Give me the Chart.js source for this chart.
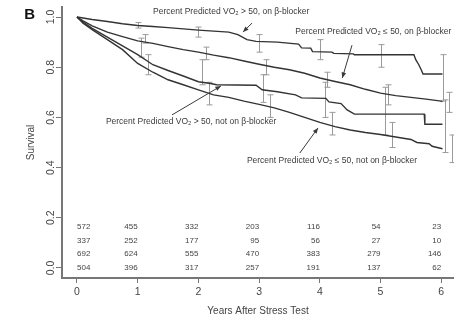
<!DOCTYPE html>
<html>
<head>
<meta charset="utf-8">
<script src="https://cdn.jsdelivr.net/npm/chart.js@4.4.0/dist/chart.umd.min.js"></script>
<style>
html, body { margin: 0; padding: 0; background: #fff; }
#wrap { width: 454px; height: 321px; position: relative; }
</style>
</head>
<body>
<div id="wrap"><canvas id="chart"></canvas></div>
<script>
'use strict';

var FONT = "'Liberation Sans', Arial, Helvetica, sans-serif";
var LINE = '#333333';
var BAR = '#9a9a9a';
var TEXT = '#444444';
var AXIS = '#777777';

// Kaplan-Meier curves (years, survival)
var timeA = [0, 0.25, 0.5, 0.75, 1.0, 1.25, 1.5, 1.75, 2.0, 2.25, 2.5, 2.65, 2.8, 2.95, 3.3, 3.65, 3.7, 3.85, 3.88, 4.2, 4.23, 4.55, 4.57, 5.55, 5.58, 5.63, 5.67, 5.7, 6.02];
var survA = [1.0, 0.99, 0.982, 0.973, 0.966, 0.962, 0.958, 0.953, 0.948, 0.944, 0.94, 0.93, 0.91, 0.903, 0.9, 0.892, 0.877, 0.876, 0.862, 0.86, 0.855, 0.853, 0.85, 0.85, 0.83, 0.81, 0.79, 0.773, 0.773];

var timeB = [0, 0.1, 0.25, 0.5, 0.75, 1.0, 1.25, 1.5, 1.75, 2.0, 2.25, 2.5, 2.75, 3.0, 3.25, 3.5, 3.75, 4.0, 4.25, 4.5, 4.75, 5.0, 5.25, 5.5, 5.75, 6.0, 6.02];
var survB = [1.0, 0.985, 0.965, 0.94, 0.922, 0.905, 0.895, 0.882, 0.87, 0.86, 0.848, 0.838, 0.825, 0.812, 0.8, 0.79, 0.776, 0.757, 0.743, 0.73, 0.712, 0.697, 0.687, 0.68, 0.673, 0.665, 0.663];

var timeC = [0, 0.1, 0.25, 0.5, 0.75, 1.0, 1.25, 1.5, 1.75, 2.0, 2.2, 2.3, 2.95, 3.05, 3.3, 3.6, 3.7, 4.1, 4.15, 4.35, 4.45, 4.57, 5.72, 5.73, 6.02];
var survC = [1.0, 0.98, 0.955, 0.92, 0.885, 0.85, 0.81, 0.787, 0.765, 0.742, 0.735, 0.73, 0.728, 0.71, 0.702, 0.69, 0.678, 0.676, 0.662, 0.655, 0.63, 0.613, 0.613, 0.573, 0.573];

var timeD = [0, 0.1, 0.25, 0.5, 0.75, 1.0, 1.25, 1.5, 1.75, 2.0, 2.25, 2.5, 2.75, 3.0, 3.25, 3.5, 3.75, 4.0, 4.25, 4.5, 4.75, 5.0, 5.25, 5.5, 5.6, 5.8, 5.85, 6.02];
var survD = [1.0, 0.975, 0.95, 0.91, 0.87, 0.815, 0.78, 0.75, 0.73, 0.71, 0.69, 0.68, 0.665, 0.652, 0.638, 0.62, 0.6, 0.58, 0.563, 0.55, 0.54, 0.532, 0.522, 0.512, 0.5, 0.495, 0.485, 0.475];

// confidence bars (time, lower, upper)
var errTimeA = [1.0, 2.0, 3.0, 4.0, 5.0, 6.03];
var errLowA = [0.956, 0.92, 0.86, 0.83, 0.80, 0.665];
var errHighA = [0.978, 0.96, 0.93, 0.91, 0.89, 0.85];

var errTimeB = [1.12, 2.12, 3.12, 4.12, 5.12, 6.12];
var errLowB = [0.896, 0.83, 0.77, 0.72, 0.65, 0.62];
var errHighB = [0.93, 0.88, 0.83, 0.78, 0.73, 0.70];

var errTimeC = [1.06, 2.06, 3.06, 4.08, 5.07, 6.06];
var errLowC = [0.84, 0.73, 0.66, 0.60, 0.53, 0.46];
var errHighC = [0.916, 0.83, 0.77, 0.74, 0.72, 0.67];

var errTimeD = [1.17, 2.17, 3.18, 4.2, 5.19, 6.18];
var errLowD = [0.77, 0.65, 0.60, 0.53, 0.48, 0.42];
var errHighD = [0.85, 0.74, 0.69, 0.62, 0.58, 0.53];

// numbers at risk
var riskTimes = [0, 1, 2, 3, 4, 5, 6];
var riskRow1 = [572, 455, 332, 203, 116, 54, 23];
var riskRow2 = [337, 252, 177, 95, 56, 27, 10];
var riskRow3 = [692, 624, 555, 470, 383, 279, 146];
var riskRow4 = [504, 396, 317, 257, 191, 137, 62];
var riskRowY = [0.165, 0.11, 0.055, 0];

var yTicks = [0, 0.2, 0.4, 0.6, 0.8, 1.0];
var yTickLabels = ['0.0', '0.2', '0.4', '0.6', '0.8', '1.0'];

var curveLabels = [
	'Percent Predicted VO\u2082 > 50, on \u03b2-blocker',
	'Percent Predicted VO\u2082 \u2264 50, on \u03b2-blocker',
	'Percent Predicted VO\u2082 > 50, not on \u03b2-blocker',
	'Percent Predicted VO\u2082 \u2264 50, not on \u03b2-blocker'
];
// label centre and arrow tail/head, in data units
var labelPos = [[2.54, 1.02], [4.88, 0.94], [1.88, 0.582], [4.2, 0.426]];
var arrowFrom = [[2.883, 0.976], [4.53, 0.888], [1.565, 0.61], [3.67, 0.458]];
var arrowTo = [[2.735, 0.94], [4.37, 0.757], [2.37, 0.725], [3.97, 0.558]];

function toPoints(ts, vs) {
	return ts.map(function(t, i) {
		return {x: t, y: vs[i]};
	});
}

function curve(ts, vs) {
	return {
		data: toPoints(ts, vs),
		borderColor: LINE,
		borderWidth: 1.4,
		pointRadius: 0,
		tension: 0,
		fill: false
	};
}

function drawBars(ctx, xs, ys, ts, lo, hi) {
	ctx.beginPath();
	for (var i = 0; i < ts.length; i++) {
		var x = Math.round(xs.getPixelForValue(ts[i])) + 0.5;
		var y1 = ys.getPixelForValue(lo[i]);
		var y2 = ys.getPixelForValue(hi[i]);
		ctx.moveTo(x, y1);
		ctx.lineTo(x, y2);
		ctx.moveTo(x - 3, y1);
		ctx.lineTo(x + 3, y1);
		ctx.moveTo(x - 3, y2);
		ctx.lineTo(x + 3, y2);
	}
	ctx.stroke();
}

function drawArrow(ctx, x1, y1, x2, y2) {
	var ang = Math.atan2(y2 - y1, x2 - x1);
	ctx.beginPath();
	ctx.moveTo(x1, y1);
	ctx.lineTo(x2, y2);
	ctx.stroke();
	ctx.beginPath();
	ctx.moveTo(x2, y2);
	ctx.lineTo(x2 - 6 * Math.cos(ang - 0.4), y2 - 6 * Math.sin(ang - 0.4));
	ctx.lineTo(x2 - 6 * Math.cos(ang + 0.4), y2 - 6 * Math.sin(ang + 0.4));
	ctx.closePath();
	ctx.fill();
}

var extras = {
	id: 'extras',
	beforeDatasetsDraw: function(chart) {
		var ctx = chart.ctx;
		var xs = chart.scales.x;
		var ys = chart.scales.y;
		ctx.save();
		ctx.strokeStyle = BAR;
		ctx.lineWidth = 1;
		drawBars(ctx, xs, ys, errTimeA, errLowA, errHighA);
		drawBars(ctx, xs, ys, errTimeB, errLowB, errHighB);
		drawBars(ctx, xs, ys, errTimeC, errLowC, errHighC);
		drawBars(ctx, xs, ys, errTimeD, errLowD, errHighD);
		ctx.restore();
	},
	afterDraw: function(chart) {
		var ctx = chart.ctx;
		var xs = chart.scales.x;
		var ys = chart.scales.y;
		var area = chart.chartArea;
		var i, j;
		ctx.save();

		// y tick labels, rotated like R
		ctx.fillStyle = TEXT;
		ctx.font = '10.5px ' + FONT;
		ctx.textAlign = 'center';
		ctx.textBaseline = 'middle';
		for (i = 0; i < yTicks.length; i++) {
			ctx.save();
			ctx.translate(51, ys.getPixelForValue(yTicks[i]));
			ctx.rotate(-Math.PI / 2);
			ctx.fillText(yTickLabels[i], 0, 0);
			ctx.restore();
		}
		ctx.save();
		ctx.font = '10px ' + FONT;
		ctx.translate(31, (area.top + area.bottom) / 2);
		ctx.rotate(-Math.PI / 2);
		ctx.fillText('Survival', 0, 0);
		ctx.restore();

		// panel letter
		ctx.fillStyle = '#111';
		ctx.font = 'bold 15px ' + FONT;
		ctx.textAlign = 'right';
		ctx.textBaseline = 'alphabetic';
		ctx.fillText('B', 35, 19);

		// numbers at risk
		var rows = [riskRow1, riskRow2, riskRow3, riskRow4];
		ctx.fillStyle = TEXT;
		ctx.font = '8px ' + FONT;
		ctx.textBaseline = 'middle';
		for (i = 0; i < rows.length; i++) {
			for (j = 0; j < riskTimes.length; j++) {
				ctx.textAlign = j === 0 ? 'left' : 'right';
				ctx.fillText(String(rows[i][j]), xs.getPixelForValue(riskTimes[j]), ys.getPixelForValue(riskRowY[i]));
			}
		}

		// curve labels and arrows
		ctx.font = '8.5px ' + FONT;
		ctx.textAlign = 'center';
		ctx.fillStyle = '#3a3a3a';
		for (i = 0; i < curveLabels.length; i++) {
			ctx.fillText(curveLabels[i], xs.getPixelForValue(labelPos[i][0]), ys.getPixelForValue(labelPos[i][1]));
		}
		ctx.strokeStyle = '#3a3a3a';
		ctx.lineWidth = 1;
		for (i = 0; i < arrowFrom.length; i++) {
			drawArrow(ctx,
				xs.getPixelForValue(arrowFrom[i][0]), ys.getPixelForValue(arrowFrom[i][1]),
				xs.getPixelForValue(arrowTo[i][0]), ys.getPixelForValue(arrowTo[i][1]));
		}
		ctx.restore();
	}
};

new Chart(document.getElementById('chart'), {
	type: 'line',
	data: {
		datasets: [
			curve(timeA, survA),
			curve(timeB, survB),
			curve(timeC, survC),
			curve(timeD, survD)
		]
	},
	options: {
		responsive: true,
		maintainAspectRatio: false,
		animation: false,
		layout: {padding: {top: 7, right: 0, left: 0, bottom: 0}},
		plugins: {
			legend: {display: false},
			tooltip: {enabled: false}
		},
		scales: {
			x: {
				type: 'linear',
				min: -0.247,
				max: 6.21,
				ticks: {
					stepSize: 1,
					includeBounds: false,
					maxRotation: 0,
					color: TEXT,
					padding: 3,
					font: {size: 10.5, family: FONT}
				},
				grid: {drawOnChartArea: false, drawTicks: true, tickLength: 5, tickColor: AXIS},
				border: {display: true, color: AXIS, width: 2},
				title: {
					display: true,
					text: 'Years After Stress Test',
					color: TEXT,
					font: {size: 10, family: FONT},
					padding: {top: 2, bottom: 4}
				},
				afterFit: function(scale) {
					scale.height = 43;
				}
			},
			y: {
				type: 'linear',
				min: -0.04,
				max: 1.04,
				ticks: {stepSize: 0.2, includeBounds: false, display: false},
				grid: {drawOnChartArea: false, drawTicks: true, tickLength: 6, tickColor: AXIS},
				border: {display: true, color: AXIS, width: 2},
				afterFit: function(scale) {
					scale.width = 62;
				}
			}
		}
	},
	plugins: [extras]
});
</script>
</body>
</html>
